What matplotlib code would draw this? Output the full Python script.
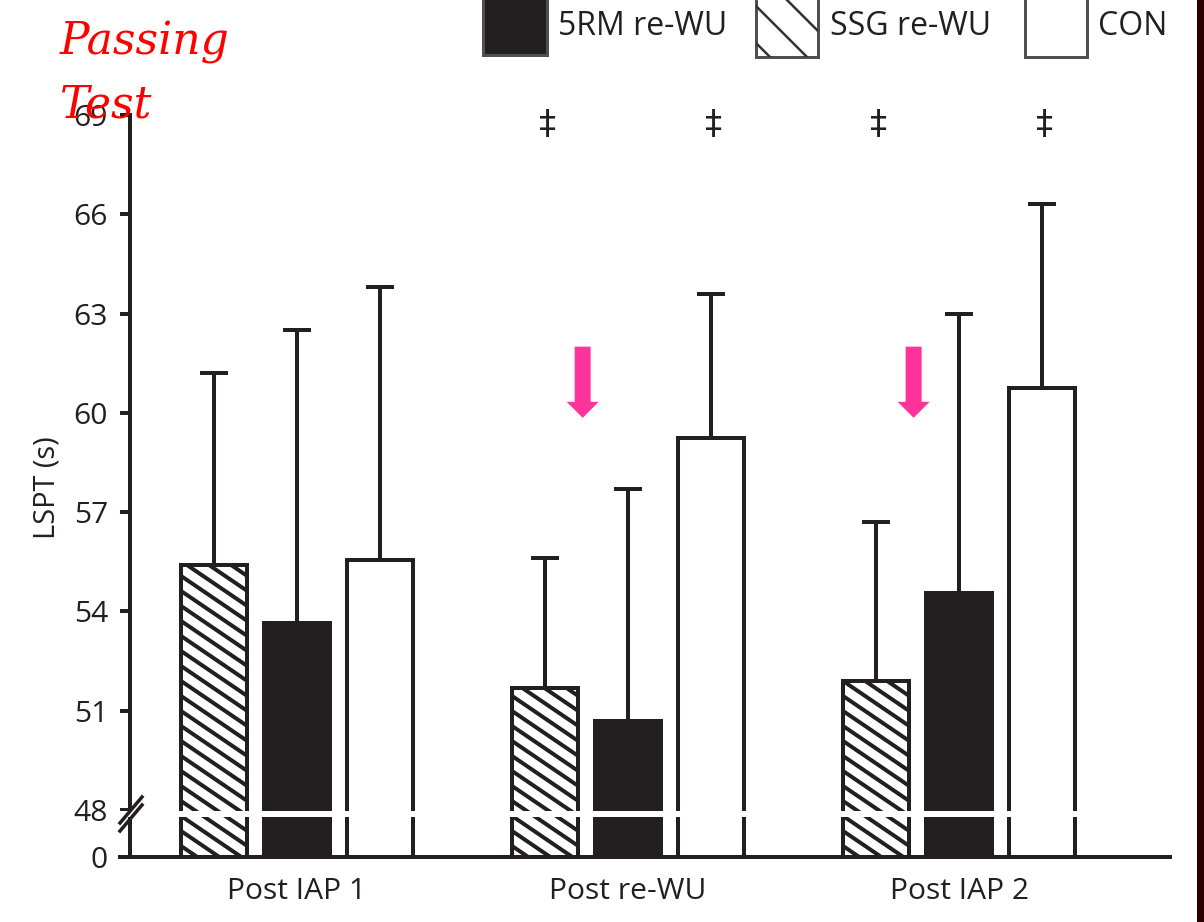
import numpy as np
import matplotlib
matplotlib.use("Agg")
import matplotlib.pyplot as plt
from matplotlib.patches import Rectangle
from matplotlib.lines import Line2D
from matplotlib.transforms import IdentityTransform

# ---------------------------------------------------------------- data
groups = ["Post IAP 1", "Post re-WU", "Post IAP 2"]
series_names = ["SSG re-WU", "5RM re-WU", "CON"]
ssg_mean = [55.4, 51.7, 51.9]
ssg_sd = [5.8, 3.9, 4.8]
rm5_mean = [53.65, 50.7, 54.55]
rm5_sd = [8.85, 7.0, 8.45]
con_mean = [55.55, 59.25, 60.75]
con_sd = [8.25, 4.35, 5.55]
ytick_values = [0, 48, 51, 54, 57, 60, 63, 66, 69]
# (group index, series) pairs flagged with a double dagger
dagger_marks = [(1, "SSG re-WU"), (1, "CON"), (2, "SSG re-WU"), (2, "CON")]
# groups that get a highlight arrow
arrow_groups = [1, 2]

# ---------------------------------------------------------------- layout helpers
W, H, DPI = 1204, 922, 120
PT = 72 / DPI          # points per pixel


def fx(x):
    return x / W


def fy(y):
    return 1 - y / H


INK = "#231f20"
plt.rcParams["font.family"] = ["Open Sans", "DejaVu Sans"]

# broken y axis: 0..48 squeezed into a short stub
BREAK = 48.0
K = 1.42 / 48


def fwd(v):
    v = np.asarray(v, dtype=float)
    return np.where(v >= BREAK, v, BREAK - (BREAK - v) * K)


def inv(u):
    u = np.asarray(u, dtype=float)
    return np.where(u >= BREAK, u, BREAK - (BREAK - u) / K)


fig = plt.figure(figsize=(W / DPI, H / DPI), dpi=DPI)
fig.patch.set_facecolor("white")
ax = fig.add_axes([fx(120), fy(857), (1170 - 120) / W, (857 - 115) / H])
ax.set_yscale("function", functions=(fwd, inv))
ax.set_xlim((120 - 297) / 331, (1170 - 297) / 331)
ax.set_ylim(0, 69)


def hatch_bar(patch, slope=0.68, gap=15.0, lw_px=4.0):
    """Shallow diagonal hatching, clipped to one bar."""
    bb = patch.get_window_extent()
    w = bb.x1 - bb.x0
    c = bb.y0 - 2
    while c < bb.y1 + slope * w + gap:
        ln = Line2D([bb.x0 - 3, bb.x1 + 3], [c, c - slope * (w + 6)],
                    transform=IdentityTransform(), color=INK,
                    lw=lw_px * PT, zorder=3.2, solid_capstyle="butt")
        ax.add_artist(ln)
        ln.set_clip_path(patch)
        c += gap


x = np.arange(len(groups))
step, width = 0.25, 0.2
specs = {
    "SSG re-WU": (ssg_mean, ssg_sd, "white", -1),
    "5RM re-WU": (rm5_mean, rm5_sd, INK, 0),
    "CON": (con_mean, con_sd, "white", 1),
}
for name in series_names:
    mean, sd, fc, k = specs[name]
    xpos = x + k * step
    bars = ax.bar(xpos, mean, width=width, bottom=0, color=fc, edgecolor=INK,
                  linewidth=4 * PT, zorder=3)
    if name == "SSG re-WU":
        for p in bars:
            hatch_bar(p)
    ax.errorbar(xpos, mean, yerr=[np.zeros(len(mean)), sd], fmt="none",
                ecolor=INK, elinewidth=4 * PT, capsize=14 * PT,
                capthick=4 * PT, zorder=2)

# significance daggers
for g, name in dagger_marks:
    k = specs[name][3]
    ax.text(g + k * step + 0.008, 68.7, "\u2021", ha="center", va="center",
            fontsize=34 * PT, color=INK, zorder=5,
            family=["DejaVu Sans"])

# highlight arrows
for g in arrow_groups:
    ax.annotate("", xy=(g - 0.137, 59.85), xytext=(g - 0.137, 62.0),
                arrowprops=dict(
                    arrowstyle=f"simple,head_length={16 * PT},"
                               f"head_width={32 * PT},tail_width={16 * PT}",
                    mutation_scale=1, shrinkA=0, shrinkB=0,
                    color="#ff3399", lw=0),
                zorder=6)

# axes styling
ax.set_yticks(ytick_values)
ax.set_yticklabels([str(v) for v in ytick_values])
ax.set_xticks(x)
ax.set_xticklabels(groups)
for s in ("top", "right"):
    ax.spines[s].set_visible(False)
for s in ("left", "bottom"):
    ax.spines[s].set_color(INK)
    ax.spines[s].set_linewidth(4 * PT)
ax.spines["left"].set_position(("axes", 10 / 1050))
ax.tick_params(axis="y", length=10 * PT, width=4 * PT, color=INK,
               pad=12 * PT, labelsize=30 * PT, labelcolor=INK)
ax.tick_params(axis="x", length=0, pad=20 * PT, labelsize=30 * PT,
               labelcolor=INK)
ax.set_ylabel("LSPT (s)", fontsize=29 * PT, color=INK, va="center")
ax.yaxis.set_label_coords((47 - 120) / 1050, (857 - 488) / 742)

# axis break: white gap across the bars plus two slashes on the spine
ax.axhline(44, color="white", lw=6 * PT, zorder=4)
for dy in (-4, 4):
    cx, cy = 131, 814 + dy
    fig.add_artist(Line2D([fx(cx - 11), fx(cx + 11)], [fy(cy + 13), fy(cy - 13)],
                          transform=fig.transFigure, color=INK,
                          lw=3.5 * PT, zorder=6))

# legend along the top edge
legend_items = [
    ("5RM re-WU", 483, 547, 55, INK, 558),
    ("SSG re-WU", 756, 818, 57, "white", 830),
    ("CON", 1025, 1087, 57, "white", 1098),
]
for label, x0, x1, yb, fc, tx in legend_items:
    rect = Rectangle((fx(x0), fy(yb)), (x1 - x0) / W, (yb + 10) / H,
                     transform=fig.transFigure, facecolor=fc,
                     edgecolor="#505050", lw=3 * PT, zorder=3)
    fig.add_artist(rect)
    if label == "SSG re-WU":
        for c in (713, 750, 787):
            ys = np.array([-20, 90])
            ln = Line2D(fx(c + ys), fy(ys), transform=fig.transFigure,
                        color="#333333", lw=2.5 * PT, zorder=4)
            fig.add_artist(ln)
            ln.set_clip_path(rect)
    fig.text(fx(tx), fy(35), label, ha="left", va="baseline",
             fontsize=32 * PT, color=INK)

# slide title
for txt, yb in (("Passing", 54), ("Test", 118)):
    fig.text(fx(60), fy(yb), txt, ha="left", va="baseline",
             family=["DejaVu Serif"], style="italic",
             fontsize=44 * PT, color="#ff0000", zorder=10)

# dark strip on the right edge
fig.add_artist(Rectangle((fx(1197), 0), 7 / W, 1, transform=fig.transFigure,
                         facecolor="#2b0000", edgecolor="none", zorder=10))

fig.savefig("out.png", dpi=DPI)
